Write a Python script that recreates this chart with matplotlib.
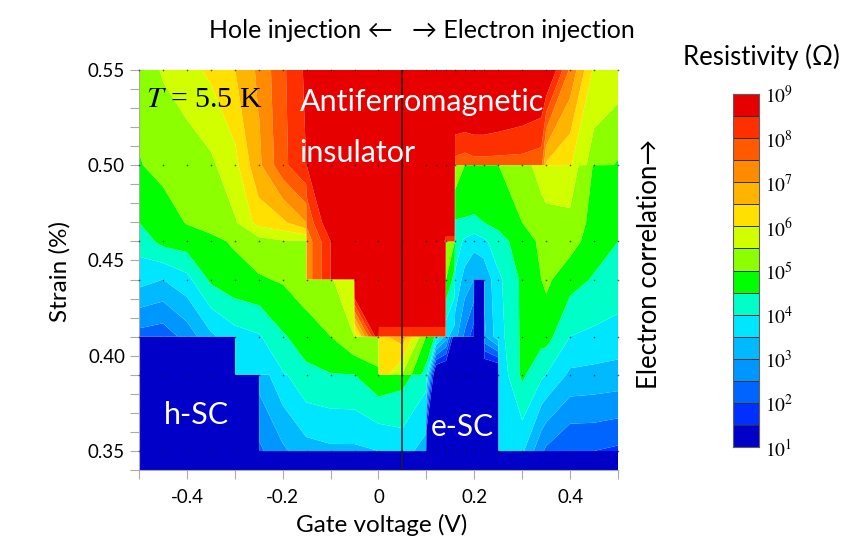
"""Gate voltage / strain phase diagram of resistivity at T = 5.5 K."""

from __future__ import annotations

import matplotlib

matplotlib.use("Agg")

import matplotlib.pyplot as plt
import numpy as np
from matplotlib.ticker import FixedFormatter, FixedLocator

WIDTH = 853
HEIGHT = 555
SANS = ["Lato", "DejaVu Sans"]

# Close pairs of voltages (-0.3/-0.299 ...) and strains (0.39/0.3901 ...) carry
# the abrupt steps of the map: contourf would otherwise smear them out.
GATE_V = [
    -0.5, -0.45, -0.4, -0.35, -0.3, -0.299, -0.25, -0.249, -0.2, -0.151, -0.15, -0.1, -0.051, -0.05,
    0.0, 0.001, 0.05, 0.099, 0.1, 0.12, 0.14, 0.141, 0.159, 0.16,
    0.18, 0.199, 0.2, 0.22, 0.221, 0.25, 0.251, 0.3, 0.34, 0.35, 0.4, 0.45, 0.5,
]
STRAIN = [0.34, 0.3499, 0.35, 0.39, 0.3901, 0.41, 0.4101, 0.44, 0.4401, 0.4599, 0.46, 0.47, 0.50, 0.5001, 0.55]

# log10(resistivity) at each gate voltage, one list per strain row
LOG_R_034 = [0.5] * 37
LOG_R_035_LOW = [0.5] * 37
LOG_R_035 = [
    0.5, 0.5, 0.5, 0.5, 0.5, 0.5, 0.5, 2.4, 2.9, 3.3, 3.3, 3.4, 3.4, 3.4,
    3.5, 3.5, 3.7, 3.3, 0.5, 0.5, 0.5, 0.5, 0.5, 0.5,
    0.5, 0.5, 0.5, 0.5, 0.5, 0.5, 3.8, 3.6, 2.6, 2.4, 2.0, 2.0, 1.9,
]
LOG_R_039_LOW = [
    0.5, 0.5, 0.5, 0.5, 0.5, 0.5, 0.5, 3.2, 3.9, 4.4, 4.4, 4.48, 4.5, 4.5,
    4.9, 4.9, 4.7, 4.2, 4.2, 0.5, 0.5, 0.5, 0.5, 0.5,
    0.5, 0.5, 0.5, 0.5, 0.5, 0.5, 3.6, 4.6, 4.1, 4.0, 3.4, 3.35, 3.3,
]
LOG_R_039 = [
    0.5, 0.5, 0.5, 0.5, 0.5, 3.7, 3.9, 3.9, 3.95, 4.4, 4.4, 4.48, 4.5, 4.5,
    4.9, 6.4, 5.45, 4.3, 4.3, 0.5, 0.5, 0.5, 0.5, 0.5,
    0.5, 0.5, 0.5, 0.5, 0.5, 0.5, 3.6, 4.6, 4.1, 4.0, 3.4, 3.35, 3.3,
]
LOG_R_041_LOW = [
    0.5, 0.5, 0.5, 0.5, 0.5, 3.7, 3.95, 3.95, 4.45, 4.7, 4.7, 5.0, 5.5, 5.5,
    5.4, 6.3, 6.8, 5.0, 5.0, 4.4, 3.3, 3.3, 1.0, 0.5,
    0.5, 0.5, 0.5, 0.5, 2.9, 3.8, 3.8, 4.6, 4.68, 4.7, 4.0, 3.9, 3.8,
]
LOG_R_041 = [
    2.3, 2.2, 2.7, 3.4, 3.8, 3.8, 3.95, 3.95, 4.45, 4.7, 4.7, 5.0, 5.5, 5.5,
    9.0, 8.2, 8.2, 8.2, 8.2, 8.2, 8.2, 3.6, 3.3, 3.2,
    2.4, 1.7, 0.5, 0.5, 2.9, 3.8, 3.8, 4.6, 4.68, 4.7, 4.0, 3.9, 3.8,
]
LOG_R_044_LOW = [
    3.7, 3.5, 3.85, 4.6, 4.85, 4.85, 4.95, 4.95, 5.05, 5.35, 5.35, 5.45, 5.9, 10,
    10, 10, 10, 10, 10, 10, 10, 5.0, 4.3, 3.9,
    3.3, 3.0, 0.5, 0.5, 3.1, 3.9, 3.9, 4.6, 5.0, 5.1, 4.7, 4.45, 4.3,
]
LOG_R_044 = [
    3.7, 3.5, 3.85, 4.6, 4.85, 4.85, 4.95, 4.95, 5.05, 5.35, 7.2, 8.5, 10, 10,
    10, 10, 10, 10, 10, 10, 10, 5.0, 4.3, 3.9,
    3.3, 3.0, 3.0, 3.0, 3.1, 3.9, 3.9, 4.6, 5.0, 5.1, 4.7, 4.45, 4.3,
]
LOG_R_046_LOW = [
    4.2, 4.65, 4.75, 4.9, 5.05, 5.05, 5.3, 5.3, 5.45, 5.45, 7.2, 8.5, 10, 10,
    10, 10, 10, 10, 10, 10, 10, 5.1, 5.0, 4.3,
    3.9, 3.7, 3.7, 3.9, 3.9, 4.3, 4.3, 4.75, 5.1, 5.15, 5.2, 4.75, 4.5,
]
LOG_R_046 = [
    4.2, 4.65, 4.75, 4.9, 5.05, 5.05, 5.3, 5.3, 5.45, 5.45, 7.2, 8.5, 10, 10,
    10, 10, 10, 10, 10, 10, 8.3, 8.1, 8.1, 4.3,
    3.9, 3.7, 3.7, 3.9, 3.9, 4.3, 4.3, 4.75, 5.1, 5.15, 5.2, 4.75, 4.5,
]
LOG_R_047 = [
    4.5, 4.75, 5.03, 5.15, 5.45, 5.45, 6.2, 6.2, 6.4, 7.0, 7.6, 9.0, 10, 10,
    10, 10, 10, 10, 10, 10, 9.5, 9.5, 9.5, 4.45,
    4.45, 4.45, 4.45, 4.5, 4.5, 4.65, 4.65, 5.0, 5.3, 5.35, 5.4, 4.8, 4.6,
]
LOG_R_050_LOW = [
    4.97, 5.15, 5.2, 5.4, 5.85, 5.85, 6.9, 6.9, 7.85, 8.5, 8.5, 10, 10, 10,
    10, 10, 10, 10, 10, 10, 10, 10, 10, 5.4,
    5.0, 4.8, 4.8, 4.8, 4.8, 5.0, 5.0, 5.3, 5.7, 5.8, 5.8, 4.95, 4.7,
]
LOG_R_050 = [
    4.97, 5.15, 5.2, 5.4, 5.85, 5.85, 6.9, 6.9, 7.85, 8.5, 8.5, 10, 10, 10,
    10, 10, 10, 10, 10, 10, 10, 10, 10, 7.8,
    7.7, 7.8, 7.8, 7.8, 7.8, 7.8, 7.8, 7.8, 7.7, 6.4, 6.05, 5.25, 4.95,
]
LOG_R_055 = [
    5.2, 5.55, 5.83, 6.1, 6.5, 6.5, 7.1, 7.1, 7.9, 8.6, 8.6, 10, 10, 10,
    10, 10, 10, 10, 10, 10, 10, 10, 10, 10,
    10, 10, 10, 10, 10, 9.8, 9.8, 9.5, 9.3, 9.3, 7.4, 5.9, 5.8,
]

# Where measurements were taken; the small dots on the map
MEASURED_V = [
    -0.5, -0.45, -0.4, -0.35, -0.3, -0.25, -0.2, -0.15, -0.1, -0.05, 0.0, 0.05, 0.1, 0.12, 0.14, 0.16,
    0.18, 0.2, 0.22, 0.25, 0.3, 0.35, 0.4, 0.45, 0.5,
]
MEASURED_STRAIN = [0.35, 0.39, 0.41, 0.44, 0.46, 0.50, 0.55]

# One colour per half decade, 10^1 to 10^9
BAND_COLORS = [
    "#0000c8", "#0030ff", "#0064ff", "#0096ff", "#00b9ff", "#00e6ff", "#00ffc8", "#00ff00",
    "#8cff00", "#d2ff00", "#ffe000", "#ffb400", "#ff8c00", "#ff5a00", "#ff3000", "#e60000",
]
BAND_EDGES = [1.0, 1.5, 2.0, 2.5, 3.0, 3.5, 4.0, 4.5, 5.0, 5.5, 6.0, 6.5, 7.0, 7.5, 8.0, 8.5, 9.0]
DECADES = [1, 2, 3, 4, 5, 6, 7, 8, 9]

X_TICKS = [-0.4, -0.2, 0.0, 0.2, 0.4]
X_TICK_LABELS = ["-0.4", "-0.2", "0", "0.2", "0.4"]
Y_TICKS = [0.35, 0.40, 0.45, 0.50, 0.55]
Y_TICK_LABELS = ["0.35", "0.40", "0.45", "0.50", "0.55"]


def axes_rect(left: float, top: float, right: float, bottom: float) -> list[float]:
    return [left / WIDTH, 1 - bottom / HEIGHT, (right - left) / WIDTH, (bottom - top) / HEIGHT]


def label(fig, x: float, y: float, text: str, **kwargs) -> None:
    fig.text(x / WIDTH, 1 - y / HEIGHT, text, ha="center", va="center", **kwargs)


def main() -> None:
    plt.rcParams["mathtext.fontset"] = "stix"
    plt.rcParams["font.family"] = SANS

    fig = plt.figure(figsize=(WIDTH / 100, HEIGHT / 100), dpi=100)
    ax = fig.add_axes(axes_rect(139, 70, 618, 470))

    log_r = np.array([
        LOG_R_034, LOG_R_035_LOW, LOG_R_035, LOG_R_039_LOW, LOG_R_039, LOG_R_041_LOW, LOG_R_041,
        LOG_R_044_LOW, LOG_R_044, LOG_R_046_LOW, LOG_R_046, LOG_R_047, LOG_R_050_LOW, LOG_R_050, LOG_R_055,
    ])
    levels = [0.0] + BAND_EDGES[1:-1] + [11.0]
    ax.contourf(GATE_V, STRAIN, log_r, levels=levels, colors=BAND_COLORS, antialiased=True)

    dots_v, dots_s = np.meshgrid(MEASURED_V, MEASURED_STRAIN)
    ax.scatter(dots_v.ravel(), dots_s.ravel(), s=1.5, color="#202020", alpha=0.7, linewidths=0,
               zorder=3, clip_on=False)
    ax.axvline(0.05, color="#202020", linewidth=1.1, zorder=4)

    ax.set_xlim(-0.5, 0.5)
    ax.set_ylim(0.34, 0.55)
    ax.xaxis.set_major_locator(FixedLocator(X_TICKS))
    ax.xaxis.set_major_formatter(FixedFormatter(X_TICK_LABELS))
    ax.xaxis.set_minor_locator(FixedLocator(np.arange(-5, 6) / 10))
    ax.yaxis.set_major_locator(FixedLocator(Y_TICKS))
    ax.yaxis.set_major_formatter(FixedFormatter(Y_TICK_LABELS))
    ax.yaxis.set_minor_locator(FixedLocator(np.arange(34, 56) / 100))
    ax.tick_params(axis="both", which="both", color="#aaaaaa", width=0.8, direction="out", length=6.5)
    ax.tick_params(axis="both", which="major", labelsize=13.5)
    ax.tick_params(axis="x", which="major", pad=7)
    ax.tick_params(axis="y", which="major", pad=3.5)
    for side in ("top", "right"):
        ax.spines[side].set_visible(False)
    for side in ("left", "bottom"):
        ax.spines[side].set_color("#aaaaaa")
        ax.spines[side].set_linewidth(0.8)

    ax.text(-0.4855, 0.5345, r"$\mathit{T}$ = 5.5 K", fontsize=21.5, family="Liberation Serif",
            ha="left", va="center", zorder=5)
    ax.text(-0.165, 0.5332, "Antiferromagnetic", color="white", fontsize=22, ha="left", va="center", zorder=5)
    ax.text(-0.165, 0.5065, "insulator", color="white", fontsize=22, ha="left", va="center", zorder=5)
    ax.text(-0.38, 0.3689, "h-SC", color="white", fontsize=22, ha="center", va="center", zorder=5)
    ax.text(0.174, 0.3625, "e-SC", color="white", fontsize=21.5, ha="center", va="center", zorder=5)

    label(fig, 301, 31, "Hole injection ←", fontsize=18)
    label(fig, 523, 31, "→ Electron injection", fontsize=18)
    label(fig, 761, 57, "Resistivity (Ω)", fontsize=18.5)
    label(fig, 382, 525, "Gate voltage (V)", fontsize=17.5)
    label(fig, 60, 272, "Strain (%)", fontsize=17.5, rotation=90)
    label(fig, 650, 264, "Electron correlation→", fontsize=18.5, rotation=90)

    cax = fig.add_axes(axes_rect(733, 94, 759, 447))
    cax.pcolormesh([0, 1], BAND_EDGES, np.arange(16).reshape(-1, 1),
                   cmap=matplotlib.colors.ListedColormap(BAND_COLORS),
                   edgecolors="#303030", linewidth=0.7)
    cax.set_xticks([])
    cax.yaxis.tick_right()
    cax.set_yticks(DECADES)
    cax.set_yticklabels([rf"$\mathrm{{10^{{{d}}}}}$" for d in DECADES], fontsize=14)
    cax.tick_params(axis="y", length=0, pad=4)
    for spine in cax.spines.values():
        spine.set_color("#606060")

    fig.savefig("out.png", dpi=100)
    plt.close(fig)


if __name__ == "__main__":
    main()
